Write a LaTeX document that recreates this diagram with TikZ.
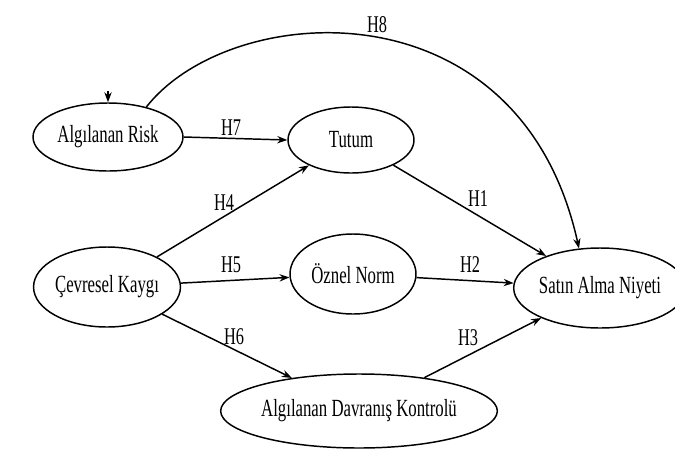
\documentclass[tikz,border=0pt]{standalone}
\usepackage{fontspec}
\setmainfont[FakeStretch=0.68]{Liberation Serif}
\usetikzlibrary{shapes.geometric,arrows.meta}
\tikzset{
  var/.style={draw, ellipse, line width=1.1pt, inner sep=0pt, font=\fontsize{18.5}{20}\selectfont},
  hyp/.style={font=\fontsize{18}{19}\selectfont, inner sep=0pt},
  arr/.style={-{Stealth[length=7.5pt,width=5.5pt]}, line width=1.1pt}
}
\begin{document}
\begin{tikzpicture}[x=0.75pt,y=-0.75pt]
    \useasboundingbox (0,0) rectangle (675,472);

    \node[var, minimum width=112.5pt, minimum height=51pt] (risk) at (108,137) {Algılanan Risk};
    \node[var, minimum width=94.5pt, minimum height=49.5pt] (tutum) at (351,140) {Tutum};
    \node[var, minimum width=108pt, minimum height=60pt] (cevre) at (107,287) {Çevresel Kaygı};
    \node[var, minimum width=94.5pt, minimum height=60pt] (oznel) at (353,274) {Öznel Norm};
    \node[var, minimum width=108pt, minimum height=60pt] (satin) at (600,288) {Satın Alma Niyeti};
    \node[var, minimum width=204pt, minimum height=55.5pt] (adk) at (359,411) {Algılanan Davranış Kontrolü};

    \coordinate (tick) at (108,91);
    \draw[arr] (tick) -- (risk.north);

    \draw[arr] (risk.east) -- (tutum.west);
    \draw[arr] (cevre) -- (tutum);
    \draw[arr] (tutum) -- (satin);
    \draw[arr] (cevre) -- (oznel);
    \draw[arr] (oznel) -- (satin);
    \draw[arr] (cevre) -- (adk);
    \draw[arr] (adk) -- (satin);
    \draw[arr] (risk.38) .. controls (230,0) and (520,-20) .. (satin.118);

    \node[hyp] (h1) at (478,199) {H1};
    \node[hyp] (h2) at (470,265) {H2};
    \node[hyp] (h3) at (468,338) {H3};
    \node[hyp] (h4) at (224,203) {H4};
    \node[hyp] (h5) at (231,265) {H5};
    \node[hyp] (h6) at (234,337) {H6};
    \node[hyp] (h7) at (231,128) {H7};
    \node[hyp] (h8) at (377,25) {H8};
\end{tikzpicture}
\end{document}
